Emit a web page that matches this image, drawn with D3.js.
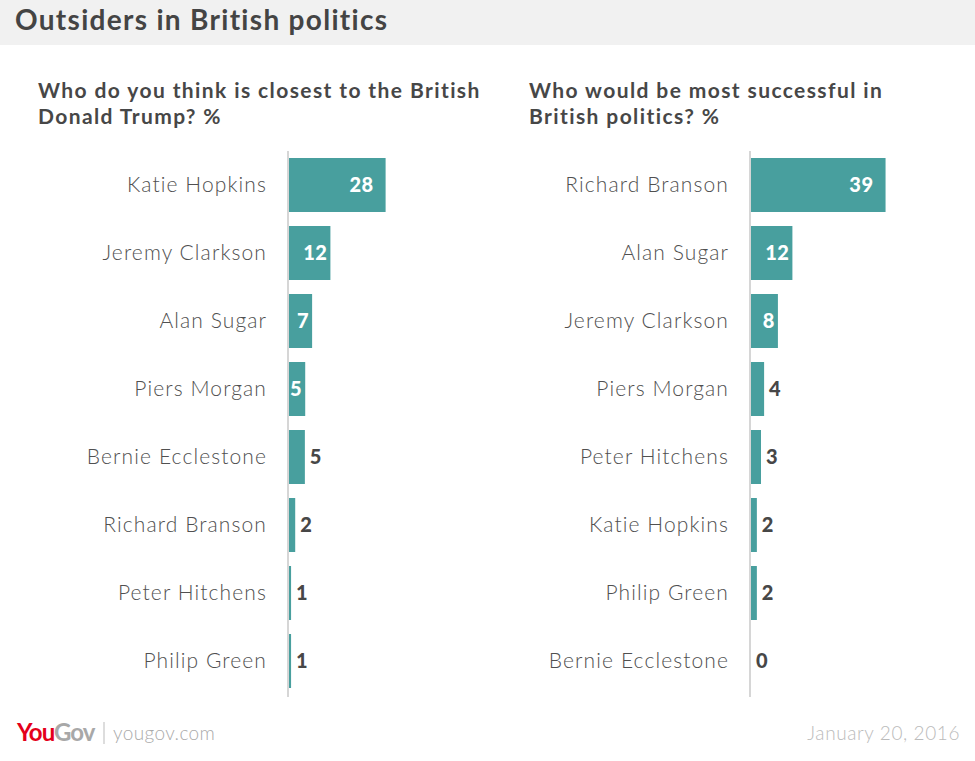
<!DOCTYPE html>
<html>
<head>
<meta charset="utf-8">
<script src="https://cdn.jsdelivr.net/npm/d3@7"></script>
<style>
  body { margin: 0; background: #fff; }
  svg { display: block; }
  text { font-family: Lato, "Open Sans", sans-serif; }
</style>
</head>
<body>
<svg id="chart" width="975" height="761"></svg>
<script>
const title = "Outsiders in British politics";
const leftTitle = ["Who do you think is closest to the British", "Donald Trump? %"];
const rightTitle = ["Who would be most successful in", "British politics? %"];

const leftCategories = ["Katie Hopkins", "Jeremy Clarkson", "Alan Sugar", "Piers Morgan", "Bernie Ecclestone", "Richard Branson", "Peter Hitchens", "Philip Green"];
const leftValues = [28, 12, 6.7, 4.7, 4.6, 1.8, 0.6, 0.6];
const leftLabels = ["28", "12", "7", "5", "5", "2", "1", "1"];

const rightCategories = ["Richard Branson", "Alan Sugar", "Jeremy Clarkson", "Piers Morgan", "Peter Hitchens", "Katie Hopkins", "Philip Green", "Bernie Ecclestone"];
const rightValues = [39, 12, 7.8, 3.8, 2.9, 1.7, 1.7, 0];
const rightLabels = ["39", "12", "8", "4", "3", "2", "2", "0"];

const footerSite = "yougov.com";
const footerDate = "January 20, 2016";

const svg = d3.select("#chart");
const barColor = "#489f9e";
const textColor = "#474747";

// header band
svg.append("rect").attr("x", 0).attr("y", 0).attr("width", 975).attr("height", 45).attr("fill", "#f1f1f1");
svg.append("text").attr("x", 15).attr("y", 30).attr("font-size", 28).attr("font-weight", 700)
  .attr("letter-spacing", 1.3).attr("fill", "#444").text(title);

function panel(axisX, labelRight, titleX, titleLines, cats, vals, labels) {
  const g = svg.append("g");
  g.selectAll("text.sub").data(titleLines).join("text")
    .attr("x", titleX).attr("y", (d, i) => 98 + i * 26)
    .attr("font-size", 21).attr("font-weight", 700).attr("fill", textColor)
    .attr("letter-spacing", 1.4)
    .text(d => d);

  const y = d3.scaleBand().domain(cats).range([151, 695]).paddingInner(0.206).paddingOuter(0.103);
  const x = d3.scaleLinear().domain([0, 40]).range([axisX, axisX + 138]);

  g.append("line").attr("x1", axisX - 1).attr("x2", axisX - 1).attr("y1", 151).attr("y2", 697)
    .attr("stroke", "#d6d6d6").attr("stroke-width", 2);

  const rows = cats.map((c, i) => ({ c, v: vals[i], l: labels[i] }));

  g.selectAll("rect.bar").data(rows).join("rect")
    .attr("x", x(0)).attr("y", d => y(d.c))
    .attr("width", d => x(d.v) - x(0)).attr("height", y.bandwidth())
    .attr("fill", barColor);

  g.selectAll("text.cat").data(rows).join("text")
    .attr("x", labelRight).attr("y", d => y(d.c) + y.bandwidth() / 2 + 7)
    .attr("text-anchor", "end").attr("font-size", 21).attr("font-weight", 300)
    .attr("letter-spacing", 1.1)
    .attr("fill", "#505050").text(d => d.c);

  const inside = d => d.v >= 4.7;
  g.selectAll("text.val").data(rows).join("text")
    .attr("x", d => inside(d) ? x(d.v) - (d.v > 20 ? 12 : 3) : x(d.v) + 5)
    .attr("y", d => y(d.c) + y.bandwidth() / 2 + 7)
    .attr("text-anchor", d => inside(d) ? "end" : "start")
    .attr("font-size", 20).attr("font-weight", 900).attr("letter-spacing", 0.5)
    .attr("fill", d => inside(d) ? "#fff" : textColor)
    .text(d => d.l);
}

panel(289, 267, 38, leftTitle, leftCategories, leftValues, leftLabels);
panel(751, 729, 529, rightTitle, rightCategories, rightValues, rightLabels);

// footer
const f = svg.append("g");
const logo = f.append("text").attr("x", 17).attr("y", 741).attr("font-size", 24).attr("font-weight", 700)
  .attr("letter-spacing", -1);
logo.append("tspan").attr("fill", "#e4001b").text("You");
logo.append("tspan").attr("fill", "#a8a8a8").text("Gov");
f.append("line").attr("x1", 104).attr("x2", 104).attr("y1", 722).attr("y2", 744).attr("stroke", "#bbb").attr("stroke-width", 1);
f.append("text").attr("x", 113).attr("y", 740).attr("font-size", 19).attr("font-weight", 300)
  .attr("letter-spacing", 0.4).attr("fill", "#aaa").text(footerSite);
f.append("text").attr("x", 960).attr("y", 740).attr("text-anchor", "end").attr("font-size", 19).attr("font-weight", 300)
  .attr("letter-spacing", 0.6).attr("fill", "#bbb").text(footerDate);
</script>
</body>
</html>
